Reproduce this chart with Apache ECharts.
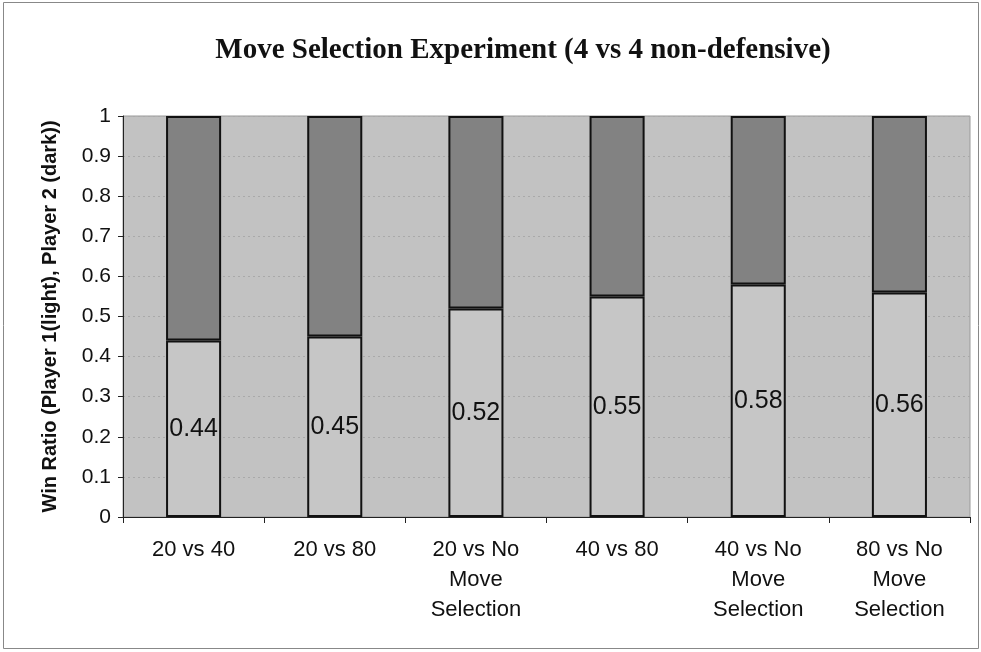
<!DOCTYPE html>
<html>
<head>
<meta charset="utf-8">
<script src="https://cdn.jsdelivr.net/npm/echarts@6/dist/echarts.min.js"></script>
<style>
  html, body { margin: 0; padding: 0; background: #ffffff; }
  #chart { width: 981px; height: 652px; }
</style>
</head>
<body>
<div id="chart"></div>
<script>
// Matchups compared in the experiment
const categories = ['20 vs 40', '20 vs 80', '20 vs No\nMove\nSelection', '40 vs 80', '40 vs No\nMove\nSelection', '80 vs No\nMove\nSelection'];
// Win ratio of player 1 (light) and player 2 (dark)
const player1Wins = [0.44, 0.45, 0.52, 0.55, 0.58, 0.56];
const player2Wins = [0.56, 0.55, 0.48, 0.45, 0.42, 0.44];
const yTicks = [0, 0.1, 0.2, 0.3, 0.4, 0.5, 0.6, 0.7, 0.8, 0.9, 1];

const chart = echarts.init(document.getElementById('chart'));
chart.setOption({
  animation: false,
  backgroundColor: '#ffffff',
  title: {
    text: 'Move Selection Experiment (4 vs 4 non-defensive)',
    left: 518,
    textAlign: 'center',
    top: 31,
    textStyle: { fontFamily: 'Liberation Serif', fontWeight: 'bold', fontSize: 29, color: '#111' }
  },
  graphic: [{
    type: 'rect',
    shape: { x: 3.5, y: 2.5, width: 975, height: 646 },
    style: { fill: 'none', stroke: '#888', lineWidth: 1 },
    silent: true
  }],
  grid: {
    left: 123, right: 11, top: 116, bottom: 135,
    show: true, backgroundColor: '#c2c2c2', borderColor: '#9a9a9a', borderWidth: 1
  },
  xAxis: {
    type: 'category',
    data: categories,
    boundaryGap: true,
    axisLine: { lineStyle: { color: '#222', width: 1 } },
    axisTick: { show: true, length: 6, lineStyle: { color: '#222' } },
    axisLabel: {
      margin: 18, interval: 0, lineHeight: 30,
      fontFamily: 'Liberation Sans', fontSize: 22, color: '#111'
    }
  },
  yAxis: {
    type: 'value',
    min: 0, max: 1, interval: 0.1,
    name: 'Win Ratio (Player 1(light), Player 2 (dark))',
    nameLocation: 'middle',
    nameGap: 63,
    nameTextStyle: { fontFamily: 'Liberation Sans', fontWeight: 'bold', fontSize: 20, color: '#111' },
    axisLine: { show: true, lineStyle: { color: '#222', width: 1 } },
    axisTick: { show: true, length: 5, lineStyle: { color: '#222' } },
    axisLabel: {
      margin: 12, fontFamily: 'Liberation Sans', fontSize: 21, color: '#111',
      formatter: v => {
        const t = yTicks.find(x => Math.abs(x - v) < 1e-6);
        return t === undefined ? '' : String(t);
      }
    },
    splitLine: { show: true, lineStyle: { color: '#a9a9a9', width: 1, type: [2, 3] } }
  },
  series: [
    {
      name: 'Player 1',
      type: 'bar',
      stack: 'wins',
      data: player1Wins,
      barWidth: '39%',
      itemStyle: { color: '#c6c6c6', borderColor: '#111', borderWidth: 2 },
      label: {
        show: true, position: 'inside',
        fontFamily: 'Liberation Sans', fontSize: 25, color: '#111'
      }
    },
    {
      name: 'Player 2',
      type: 'bar',
      stack: 'wins',
      data: player2Wins,
      barWidth: '39%',
      itemStyle: { color: '#828282', borderColor: '#111', borderWidth: 2 }
    }
  ]
});
</script>
</body>
</html>
